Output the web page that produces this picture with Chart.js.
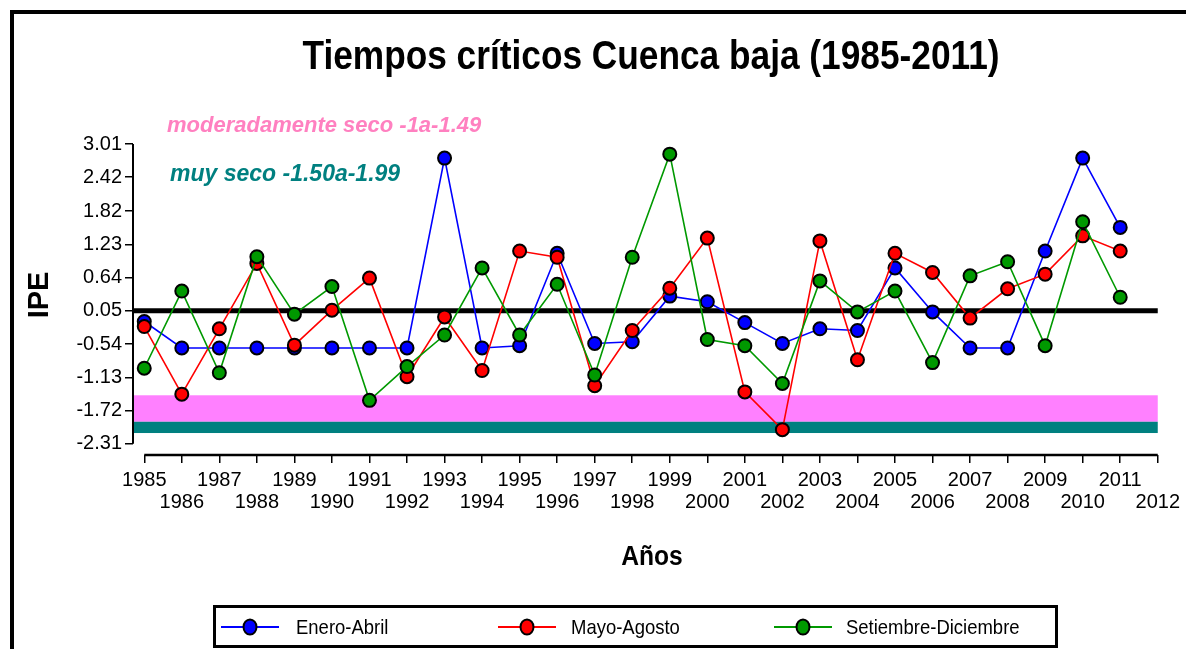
<!DOCTYPE html>
<html>
<head>
<meta charset="utf-8">
<script src="https://cdn.jsdelivr.net/npm/chart.js@4/dist/chart.umd.min.js"></script>
<style>
  html, body { margin: 0; padding: 0; background: #fff; }
  #wrap { position: relative; width: 1186px; height: 649px; overflow: hidden; }
  canvas { position: absolute; left: 0; top: 0; }
</style>
</head>
<body>
<div id="wrap"><canvas id="c" width="1186" height="649"></canvas></div>
<script>
// ---------- data ----------
const TITLE = 'Tiempos críticos Cuenca baja (1985-2011)';
const X_TITLE = 'Años';
const Y_TITLE = 'IPE';
const YEARS = [1985,1986,1987,1988,1989,1990,1991,1992,1993,1994,1995,1996,1997,1998,1999,2000,2001,2002,2003,2004,2005,2006,2007,2008,2009,2010,2011];
const X_TICKS = [1985,1986,1987,1988,1989,1990,1991,1992,1993,1994,1995,1996,1997,1998,1999,2000,2001,2002,2003,2004,2005,2006,2007,2008,2009,2010,2011,2012];
const Y_TICKS = [-2.31,-1.72,-1.13,-0.54,0.05,0.64,1.23,1.82,2.42,3.01];
const SERIES_NAMES = ['Enero-Abril','Mayo-Agosto','Setiembre-Diciembre'];
const SERIES_COLORS = ['#0000ff','#ff0000','#009900'];
const ENERO_ABRIL = [-0.14,-0.61,-0.61,-0.61,-0.61,-0.61,-0.61,-0.61,2.76,-0.61,-0.57,1.07,-0.53,-0.50,0.31,0.21,-0.16,-0.53,-0.27,-0.30,0.81,0.03,-0.61,-0.61,1.11,2.76,1.53];
const MAYO_AGOSTO = [-0.23,-1.43,-0.27,0.89,-0.56,0.06,0.63,-1.12,-0.06,-1.01,1.11,1.00,-1.28,-0.30,0.45,1.34,-1.39,-2.06,1.29,-0.82,1.07,0.73,-0.08,0.44,0.70,1.38,1.11];
const SETIEMBRE_DICIEMBRE = [-0.97,0.40,-1.05,1.01,-0.01,0.48,-1.54,-0.94,-0.38,0.81,-0.38,0.52,-1.09,1.00,2.83,-0.46,-0.57,-1.24,0.58,0.03,0.40,-0.87,0.67,0.92,-0.57,1.63,0.29];
const REF_LINE = 0.05;
const BAND_LABELS = ['moderadamente seco -1a-1.49','muy seco -1.50a-1.99'];
const BAND_TOP = [-1.45,-1.92];
const BAND_BOTTOM = [-1.92,-2.12];
const BAND_COLORS = ['#ff80ff','#008080'];
const BAND_TEXT_COLORS = ['#ff80c0','#008080'];

const NARROW = '"Liberation Sans Narrow","Arial Narrow","Liberation Sans",Arial,sans-serif';
const SANS = '"Liberation Sans",Arial,sans-serif';

const series = [ENERO_ABRIL, MAYO_AGOSTO, SETIEMBRE_DICIEMBRE];
const datasets = series.map((vals, i) => ({
  label: SERIES_NAMES[i],
  data: YEARS.map((y, k) => ({x: y, y: vals[k]})),
  borderColor: SERIES_COLORS[i],
  backgroundColor: SERIES_COLORS[i],
  pointBackgroundColor: SERIES_COLORS[i],
  pointBorderColor: '#000',
  pointBorderWidth: 2,
  pointRadius: 6.5,
  borderWidth: 1.6,
  tension: 0,
  clip: false,
  order: 2 - i
}));

// draw text horizontally condensed (the original uses a narrow face)
function narrowText(ctx, text, x, y, sx) {
  ctx.save();
  ctx.translate(x, y);
  ctx.scale(sx, 1);
  ctx.fillText(text, 0, 0);
  ctx.restore();
}

const decor = {
  id: 'decor',
  beforeDraw(chart) {
    const ctx = chart.ctx;
    ctx.save();
    ctx.fillStyle = '#fff';
    ctx.fillRect(0, 0, chart.width, chart.height);
    ctx.fillStyle = '#000';
    ctx.fillRect(10, 10, chart.width - 10, 4);
    ctx.fillRect(10, 10, 4, chart.height - 10);
    ctx.restore();
  },
  beforeDatasetsDraw(chart) {
    const ctx = chart.ctx, a = chart.chartArea;
    const ys = chart.scales.y, xs = chart.scales.x;
    ctx.save();
    BAND_TOP.forEach((t, i) => {
      const y1 = ys.getPixelForValue(t), y2 = ys.getPixelForValue(BAND_BOTTOM[i]);
      ctx.fillStyle = BAND_COLORS[i];
      ctx.fillRect(a.left, y1, a.right - a.left, y2 - y1);
    });
    ctx.strokeStyle = '#000';
    ctx.lineWidth = 5;
    const yr = ys.getPixelForValue(REF_LINE);
    ctx.beginPath(); ctx.moveTo(a.left, yr); ctx.lineTo(a.right, yr); ctx.stroke();
    ctx.lineWidth = 2;
    ctx.beginPath();
    ctx.moveTo(a.left, ys.getPixelForValue(Y_TICKS[0]));
    ctx.lineTo(a.left, ys.getPixelForValue(Y_TICKS[Y_TICKS.length - 1]));
    ctx.stroke();
    ctx.lineWidth = 2.5;
    ctx.beginPath();
    ctx.moveTo(xs.getPixelForValue(X_TICKS[0]), a.bottom);
    ctx.lineTo(xs.getPixelForValue(X_TICKS[X_TICKS.length - 1]), a.bottom);
    ctx.stroke();
    ctx.restore();
  },
  afterDraw(chart) {
    const ctx = chart.ctx;
    ctx.save();
    ctx.fillStyle = '#000';
    ctx.textAlign = 'center';
    ctx.textBaseline = 'middle';
    ctx.font = 'bold 41px ' + NARROW;
    narrowText(ctx, TITLE, 651, 58, 0.86);
    ctx.font = 'bold 28px ' + NARROW;
    narrowText(ctx, X_TITLE, 652, 557, 0.88);
    ctx.save();
    ctx.translate(40, 295);
    ctx.rotate(-Math.PI / 2);
    ctx.font = 'bold 29px ' + SANS;
    ctx.fillText(Y_TITLE, 0, 0);
    ctx.restore();
    ctx.textAlign = 'left';
    ctx.font = 'italic bold 22px ' + SANS;
    ctx.fillStyle = BAND_TEXT_COLORS[0];
    ctx.fillText(BAND_LABELS[0], 167, 126);
    ctx.font = 'italic bold 23px ' + SANS;
    ctx.fillStyle = BAND_TEXT_COLORS[1];
    ctx.fillText(BAND_LABELS[1], 170, 175);
    // legend
    ctx.strokeStyle = '#000';
    ctx.lineWidth = 3;
    ctx.strokeRect(214.5, 606.5, 842, 40);
    const items = [[221, 296], [498, 571], [774, 846]];
    chart.data.datasets.forEach((ds, i) => {
      const [lx, tx] = items[i];
      const cy = 627;
      ctx.strokeStyle = ds.borderColor;
      ctx.lineWidth = 2;
      ctx.beginPath(); ctx.moveTo(lx, cy); ctx.lineTo(lx + 58, cy); ctx.stroke();
      ctx.beginPath(); ctx.ellipse(lx + 29, cy, 6.5, 7.5, 0, 0, Math.PI * 2);
      ctx.fillStyle = ds.backgroundColor; ctx.fill();
      ctx.strokeStyle = '#000'; ctx.lineWidth = 2; ctx.stroke();
      ctx.fillStyle = '#000';
      ctx.font = '21px ' + NARROW;
      narrowText(ctx, ds.label, tx, cy + 1, 0.88);
    });
    ctx.restore();
  }
};

new Chart(document.getElementById('c'), {
  type: 'line',
  data: { datasets },
  options: {
    responsive: false,
    animation: false,
    layout: { padding: { left: 0, top: 144, right: 26, bottom: 0 } },
    plugins: { legend: { display: false }, title: { display: false }, tooltip: { enabled: false } },
    scales: {
      x: {
        type: 'linear',
        min: 1984.7,
        max: 2012,
        afterBuildTicks: s => { s.ticks = X_TICKS.map(v => ({ value: v })); },
        afterFit: s => { s.height = 194; },
        border: { display: false },
        grid: { drawOnChartArea: false, drawTicks: true, tickLength: 8, color: '#000', lineWidth: 1.5 },
        ticks: {
          autoSkip: false,
          maxRotation: 0,
          padding: 6,
          color: '#000',
          font: { family: NARROW, size: 20, lineHeight: 1.1 },
          callback: v => (v % 2 === 1 ? [String(v), ' '] : [' ', String(v)])
        }
      },
      y: {
        type: 'linear',
        min: -2.51,
        max: 3.01,
        afterBuildTicks: s => { s.ticks = Y_TICKS.map(v => ({ value: v })); },
        afterFit: s => { s.width = 133; },
        border: { display: false },
        grid: { drawOnChartArea: false, drawTicks: true, tickLength: 8, color: '#000', lineWidth: 1.5 },
        ticks: {
          padding: 3,
          color: '#000',
          font: { family: NARROW, size: 20 },
          callback: v => Number(v).toFixed(2)
        }
      }
    }
  },
  plugins: [decor]
});
</script>
</body>
</html>
